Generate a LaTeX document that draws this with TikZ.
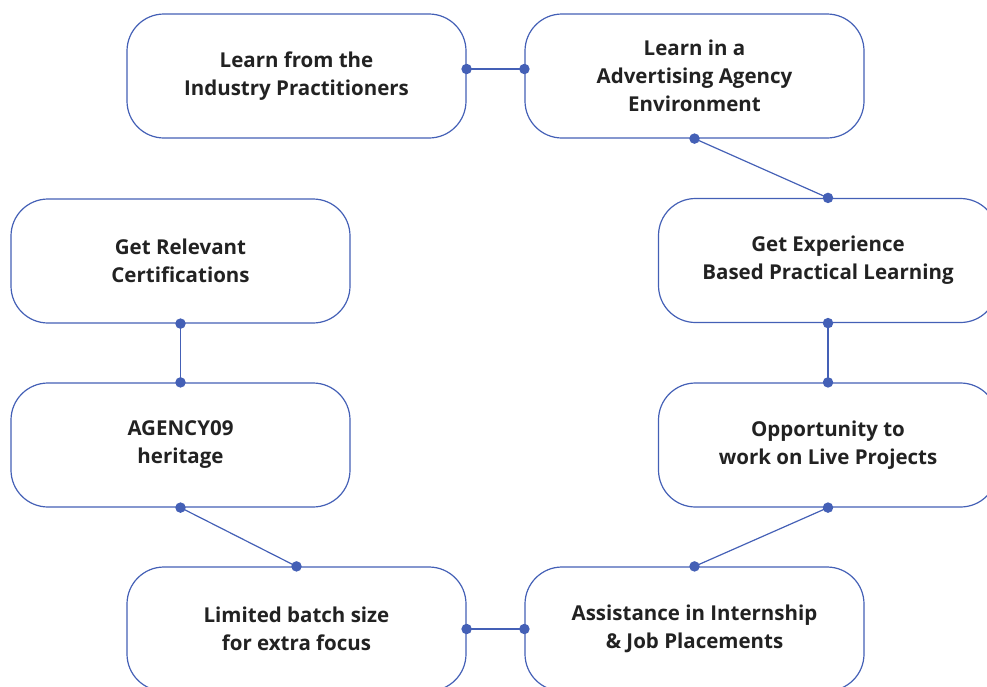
\documentclass[tikz,border=0pt]{standalone}
\usepackage{fontspec}
\setmainfont{Open Sans}
\definecolor{linkblue}{RGB}{68,96,182}
\definecolor{inkgray}{RGB}{34,34,34}

\begin{document}
\begin{tikzpicture}[x=1pt, y=-1pt,
    card/.style={draw=linkblue, line width=1.2pt, rounded corners=37pt, fill=white,
      minimum width=339pt, minimum height=124pt, align=center, text=inkgray,
      font=\fontsize{20.5}{28}\selectfont\bfseries},
    link/.style={draw=linkblue, line width=1.2pt},
    dot/.style={circle, fill=linkblue, inner sep=0pt, minimum size=10.5pt}]
    \useasboundingbox (0,0) rectangle (987,686);
    \node[card] (practitioners) at (296.5,76) {Learn from the\\Industry Practitioners};
    \node[card] (agency) at (694.5,76) {Learn in a\\Advertising Agency\\Environment};
    \node[card] (certify) at (180.5,261) {Get Relevant\\Certifications};
    \node[card] (practical) at (828,260.5) {Get Experience\\Based Practical Learning};
    \node[card] (heritage) at (180.5,445) {AGENCY09\\heritage};
    \node[card] (live) at (828,445) {Opportunity to\\work on Live Projects};
    \node[card] (batch) at (296.5,629) {Limited batch size\\for extra focus};
    \node[card] (placement) at (694.5,629) {Assistance in Internship\\\& Job Placements};
    \path[link] ([yshift=7pt]practitioners.east) node[dot]{} -- ([yshift=7pt]agency.west) node[dot]{};
    \path[link] (agency.south) node[dot]{} -- (practical.north) node[dot]{};
    \path[link] (certify.south) node[dot]{} -- (heritage.north) node[dot]{};
    \path[link] (heritage.south) node[dot]{} -- (batch.north) node[dot]{};
    \path[link] (practical.south) node[dot]{} -- (live.north) node[dot]{};
    \path[link] (live.south) node[dot]{} -- (placement.north) node[dot]{};
    \path[link] (batch.east) node[dot]{} -- (placement.west) node[dot]{};
\end{tikzpicture}
\end{document}
